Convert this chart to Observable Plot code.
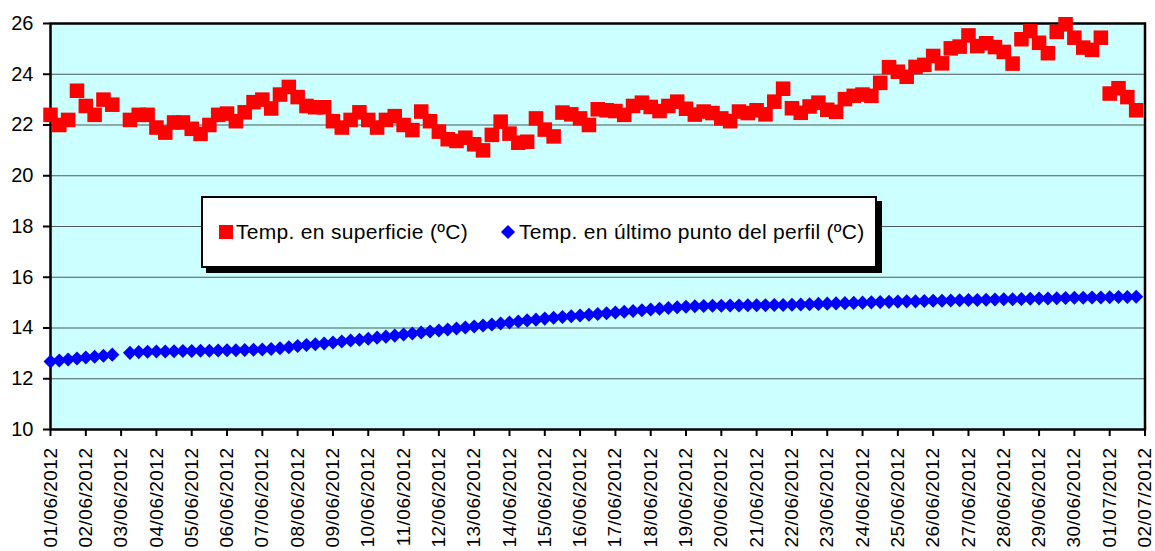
<!DOCTYPE html>
<html>
<head>
<meta charset="utf-8">
<script src="https://cdn.jsdelivr.net/npm/d3@7"></script>
<script src="https://cdn.jsdelivr.net/npm/@observablehq/plot@0.6"></script>
<style>
  html, body { margin: 0; padding: 0; background: #ffffff; }
  #wrap { position: relative; width: 1155px; height: 551px; overflow: hidden;
          font-family: "Liberation Sans", Arial, sans-serif; }
  #legend { position: absolute; left: 201px; top: 196px; width: 672px; height: 68px;
            background: #ffffff; border: 2px solid #000; box-shadow: 5px 5px 0 #000;
            font-size: 21px; letter-spacing: 0.3px; color: #000; }
  .lg-item { position: absolute; top: 0; height: 68px; display: flex; align-items: center; white-space: nowrap; }
  .sw-square { width: 14px; height: 14px; background: #ff0000; margin-right: 3px; }
  .sw-diamond { width: 10px; height: 10px; background: #0000ff; transform: rotate(45deg); margin: 0 6px 0 3px; }
  [aria-label="x-axis tick label"] text { letter-spacing: 0.5px; }
</style>
</head>
<body>
<div id="wrap"></div>
<script>
// ---- data (4 readings per day, every 6 h, starting 01/06/2012 00:00; null = no reading) ----
const dayLabels = [
  "01/06/2012","02/06/2012","03/06/2012","04/06/2012","05/06/2012","06/06/2012","07/06/2012","08/06/2012",
  "09/06/2012","10/06/2012","11/06/2012","12/06/2012","13/06/2012","14/06/2012","15/06/2012","16/06/2012",
  "17/06/2012","18/06/2012","19/06/2012","20/06/2012","21/06/2012","22/06/2012","23/06/2012","24/06/2012",
  "25/06/2012","26/06/2012","27/06/2012","28/06/2012","29/06/2012","30/06/2012","01/07/2012","02/07/2012"
];
const readingsPerDay = 4;
const yTicks = [10, 12, 14, 16, 18, 20, 22, 24, 26];

const surfaceTemp = [
  22.4, 22.0, 22.2, 23.35, 22.75, 22.4, 23.0, 22.8,
  null, 22.2, 22.4, 22.4, 21.9, 21.7, 22.1, 22.1,
  21.85, 21.65, 22.0, 22.4, 22.45, 22.15, 22.5, 22.9,
  23.0, 22.65, 23.2, 23.5, 23.1, 22.75, 22.7, 22.7,
  22.15, 21.9, 22.2, 22.5, 22.2, 21.9, 22.2, 22.35,
  22.0, 21.8, 22.53, 22.15, 21.74, 21.44, 21.37, 21.5,
  21.24, 21.0, 21.61, 22.13, 21.66, 21.3, 21.34, 22.26,
  21.82, 21.55, 22.49, 22.42, 22.26, 22.0, 22.62, 22.58,
  22.55, 22.4, 22.75, 22.88, 22.71, 22.55, 22.75, 22.92,
  22.64, 22.41, 22.53, 22.47, 22.26, 22.15, 22.53, 22.47,
  22.58, 22.42, 22.92, 23.43, 22.66, 22.48, 22.73, 22.88,
  22.6, 22.52, 23.02, 23.15, 23.2, 23.15, 23.66, 24.28,
  24.1, 23.9, 24.29, 24.37, 24.72, 24.43, 25.02, 25.09,
  25.53, 25.11, 25.22, 25.07, 24.88, 24.42, 25.38, 25.7,
  25.24, 24.83, 25.67, 25.97, 25.44, 25.05, 24.96, 25.44,
  23.24, 23.45, 23.1, 22.58
];

const bottomTemp = [
  12.68, 12.72, 12.76, 12.80, 12.84, 12.87, 12.91, 12.95,
  null, 13.02, 13.05, 13.06, 13.07, 13.07, 13.08, 13.09,
  13.09, 13.10, 13.10, 13.11, 13.12, 13.12, 13.13, 13.14,
  13.15, 13.17, 13.20, 13.24, 13.29, 13.33, 13.36, 13.39,
  13.43, 13.47, 13.51, 13.54, 13.58, 13.62, 13.66, 13.70,
  13.74, 13.78, 13.82, 13.86, 13.90, 13.94, 13.98, 14.02,
  14.06, 14.10, 14.14, 14.18, 14.22, 14.26, 14.30, 14.33,
  14.37, 14.40, 14.43, 14.46, 14.49, 14.52, 14.55, 14.58,
  14.61, 14.64, 14.67, 14.70, 14.73, 14.76, 14.79, 14.82,
  14.84, 14.86, 14.87, 14.88, 14.88, 14.89, 14.89, 14.90,
  14.90, 14.90, 14.91, 14.91, 14.92, 14.93, 14.94, 14.95,
  14.96, 14.97, 14.98, 14.99, 15.00, 15.01, 15.02, 15.03,
  15.04, 15.05, 15.05, 15.06, 15.07, 15.07, 15.08, 15.09,
  15.10, 15.10, 15.11, 15.12, 15.13, 15.13, 15.14, 15.15,
  15.16, 15.16, 15.17, 15.18, 15.19, 15.19, 15.20, 15.20,
  15.21, 15.22, 15.22, 15.23
];

const seriesNames = ["Temp. en superficie (ºC)", "Temp. en último punto del perfil (ºC)"];

// ---- build rows ----
const toRows = (arr) => arr.map((v, i) => ({day: i / readingsPerDay, value: v})).filter(d => d.value != null);
const surfaceRows = toRows(surfaceTemp);
const bottomRows = toRows(bottomTemp);
const dayIndex = dayLabels.map((_, i) => i);

const diamondSymbol = {
  draw(ctx, size) {
    const r = Math.sqrt(size / 2);
    ctx.moveTo(0, -r); ctx.lineTo(r, 0); ctx.lineTo(0, r); ctx.lineTo(-r, 0); ctx.closePath();
  }
};

const chart = Plot.plot({
  width: 1155,
  height: 551,
  marginLeft: 50,
  marginRight: 10.5,
  marginTop: 23,
  marginBottom: 122,
  style: {fontFamily: "'Liberation Sans', Arial, sans-serif", fontSize: "20px", color: "#000", background: "transparent", overflow: "visible"},
  x: {domain: [0, dayLabels.length - 1]},
  y: {domain: [yTicks[0], yTicks[yTicks.length - 1]]},
  marks: [
    Plot.frame({fill: "#ccffff"}),
    Plot.ruleY(yTicks.slice(1, -1), {stroke: "#4a5a5a", strokeWidth: 1.2}),
    Plot.frame({stroke: "#000", strokeWidth: 2.5}),
    Plot.axisY({ticks: yTicks, tickSize: 7, tickPadding: 10, strokeWidth: 2, fontSize: 20, label: null}),
    Plot.axisX({ticks: dayIndex, tickFormat: i => dayLabels[i], tickRotate: -90, tickSize: 7, tickPadding: 11, strokeWidth: 2, fontSize: 19, label: null}),
    Plot.dot(bottomRows, {x: "day", y: "value", symbol: diamondSymbol, r: 5.6, fill: "#0000ff", stroke: "none"}),
    Plot.dot(surfaceRows, {x: "day", y: "value", symbol: d3.symbolSquare, r: 8.2, fill: "#ff0000", stroke: "none"})
  ]
});

const wrap = document.getElementById("wrap");
wrap.appendChild(chart);

const legend = document.createElement("div");
legend.id = "legend";
legend.innerHTML =
  `<div class="lg-item" style="left:16px"><span class="sw-square"></span><span>${seriesNames[0]}</span></div>` +
  `<div class="lg-item" style="left:297px"><span class="sw-diamond"></span><span>${seriesNames[1]}</span></div>`;
wrap.appendChild(legend);
</script>
</body>
</html>
